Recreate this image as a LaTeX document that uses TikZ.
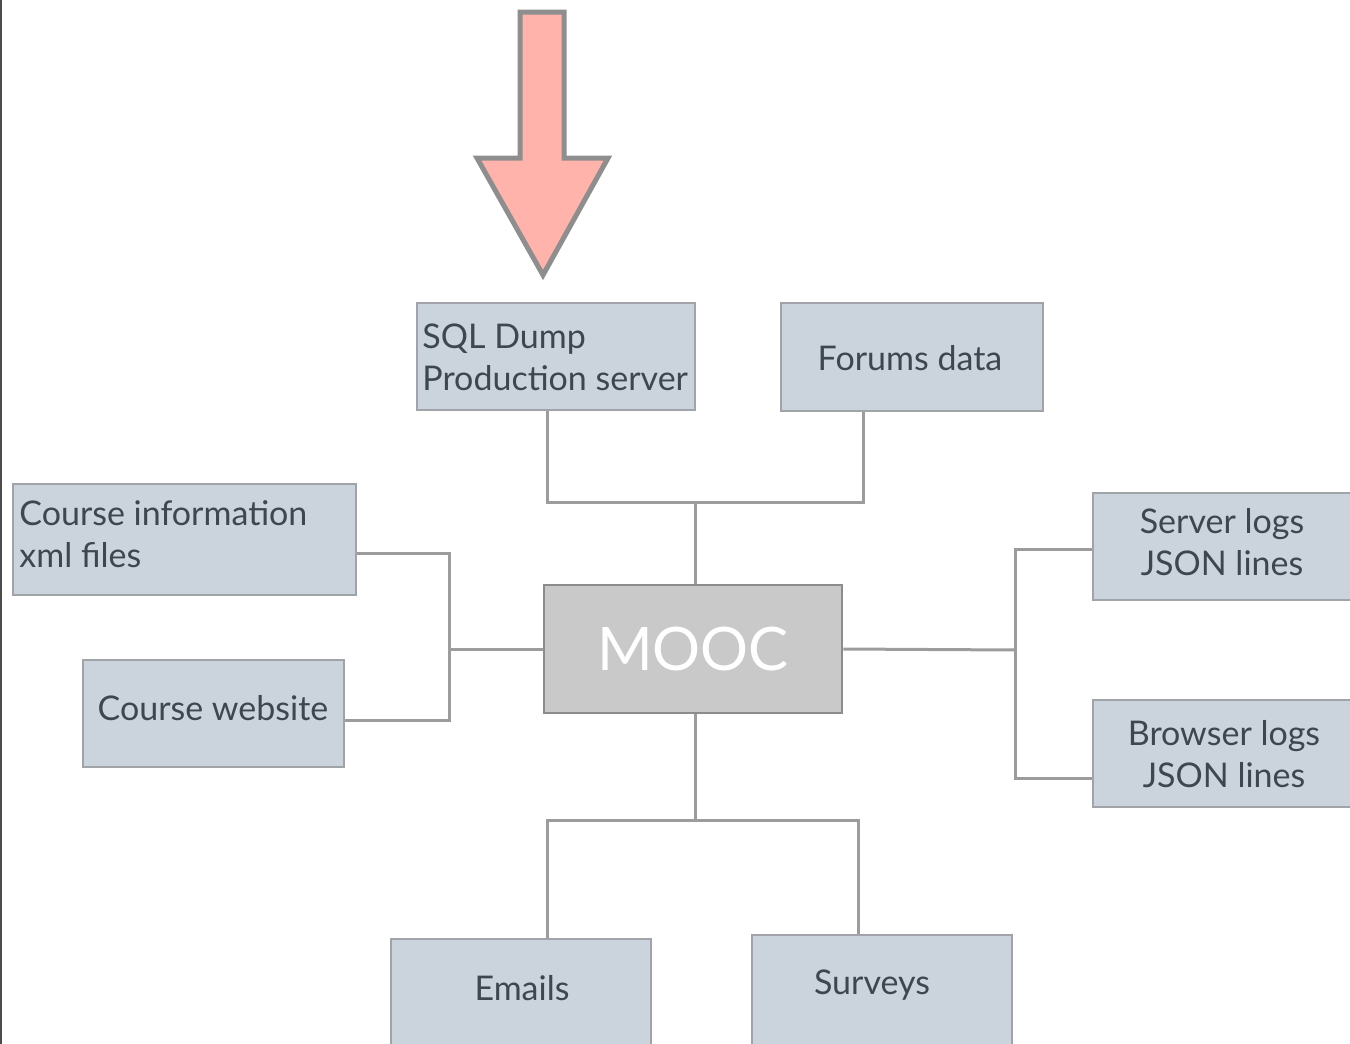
\documentclass[tikz,border=0pt]{standalone}
\usepackage{fontspec}
\setmainfont{Lato}
\definecolor{boxfill}{HTML}{CBD3DC}
\definecolor{boxline}{HTML}{A0A4A8}
\definecolor{wire}{HTML}{9C9C9C}
\definecolor{ink}{HTML}{3E4650}
\definecolor{hubfill}{HTML}{C9C9C9}
\definecolor{hubline}{HTML}{8C8C8C}
\definecolor{arrowfill}{HTML}{FFB3AB}
\definecolor{arrowline}{HTML}{8E8E8E}
\begin{document}
\begin{tikzpicture}[x=0.5pt,y=-0.5pt,
  src/.style={draw=boxline, line width=1.4pt, fill=boxfill, inner sep=0pt},
  lbl/.style={text=ink, font=\fontsize{17}{21}\selectfont, inner sep=0pt, align=center},
  hub/.style={draw=hubline, line width=1.4pt, fill=hubfill, inner sep=0pt,
    text=white, font=\fontsize{30}{30}\selectfont},
  wire/.style={draw=wire, line width=1.5pt}]
\useasboundingbox (0,0) rectangle (1350,1044);
\clip (0,0) rectangle (1350,1044);

% left page edge
\draw[line width=1pt, draw=black!70] (1,0) -- (1,1044);

% pointer arrow
\draw[fill=arrowfill, draw=arrowline, line width=2.5pt, line join=miter]
  (520,12) -- (564,12) -- (564,158) -- (608,158) -- (543,275)
  -- (477,158) -- (520,158) -- cycle;

% central hub
\node[hub, minimum width=149pt, minimum height=64pt] (mooc) at (693,649) {MOOC};

% data sources
\node[src, minimum width=139pt, minimum height=53.5pt] (sql) at (556,356.5) {};
\node[lbl, anchor=west, align=left] (sqlt) at (422,357) {SQL Dump\\Production server};
\node[src, minimum width=131pt, minimum height=54pt] (forums) at (912,357) {};
\node[lbl] (forumst) at (910,358) {Forums data};
\node[src, minimum width=171.5pt, minimum height=55.5pt] (info) at (184.5,539.5) {};
\node[lbl, anchor=west, align=left] (infot) at (19,534) {Course information\\xml files};
\node[src, minimum width=130.5pt, minimum height=53.5pt] (web) at (213.5,713.5) {};
\node[lbl] (webt) at (213,708) {Course website};
\node[src, minimum width=129.5pt, minimum height=53.5pt] (srv) at (1222.5,546.5) {};
\node[lbl] (srvt) at (1222,542) {Server logs\\JSON lines};
\node[src, minimum width=129.5pt, minimum height=53.5pt] (brw) at (1222.5,753.5) {};
\node[lbl] (brwt) at (1224,754) {Browser logs\\JSON lines};
\node[src, minimum width=130pt, minimum height=60pt] (email) at (521,999) {};
\node[lbl] (emailt) at (522,988) {Emails};
\node[src, minimum width=130pt, minimum height=62pt] (surv) at (882,997) {};
\node[lbl] (survt) at (872,985) {Surveys};

% junction points
\coordinate (jt) at (695,502);
\coordinate (jl) at (449,649);
\coordinate (jr) at (1015,650);
\coordinate (jb) at (695,820);

% top branch
\draw[wire] (sql.south -| 547,0) |- (jt) -| (forums.south -| 863,0);
\draw[wire] (jt) -- (mooc.north -| jt);
% left branch
\draw[wire] (info.east |- 0,553) -| (jl) |- (web.east |- 0,720);
\draw[wire] (mooc.west) -- (jl);
% right branch
\draw[wire] (srv.west |- 0,549) -| (jr) |- (brw.west |- 0,778);
\draw[wire] (mooc.east) -- (jr);
% bottom branch
\draw[wire] (mooc.south -| jb) -- (jb);
\draw[wire] (email.north -| 547,0) |- (jb) -| (surv.north -| 858,0);
\end{tikzpicture}
\end{document}
